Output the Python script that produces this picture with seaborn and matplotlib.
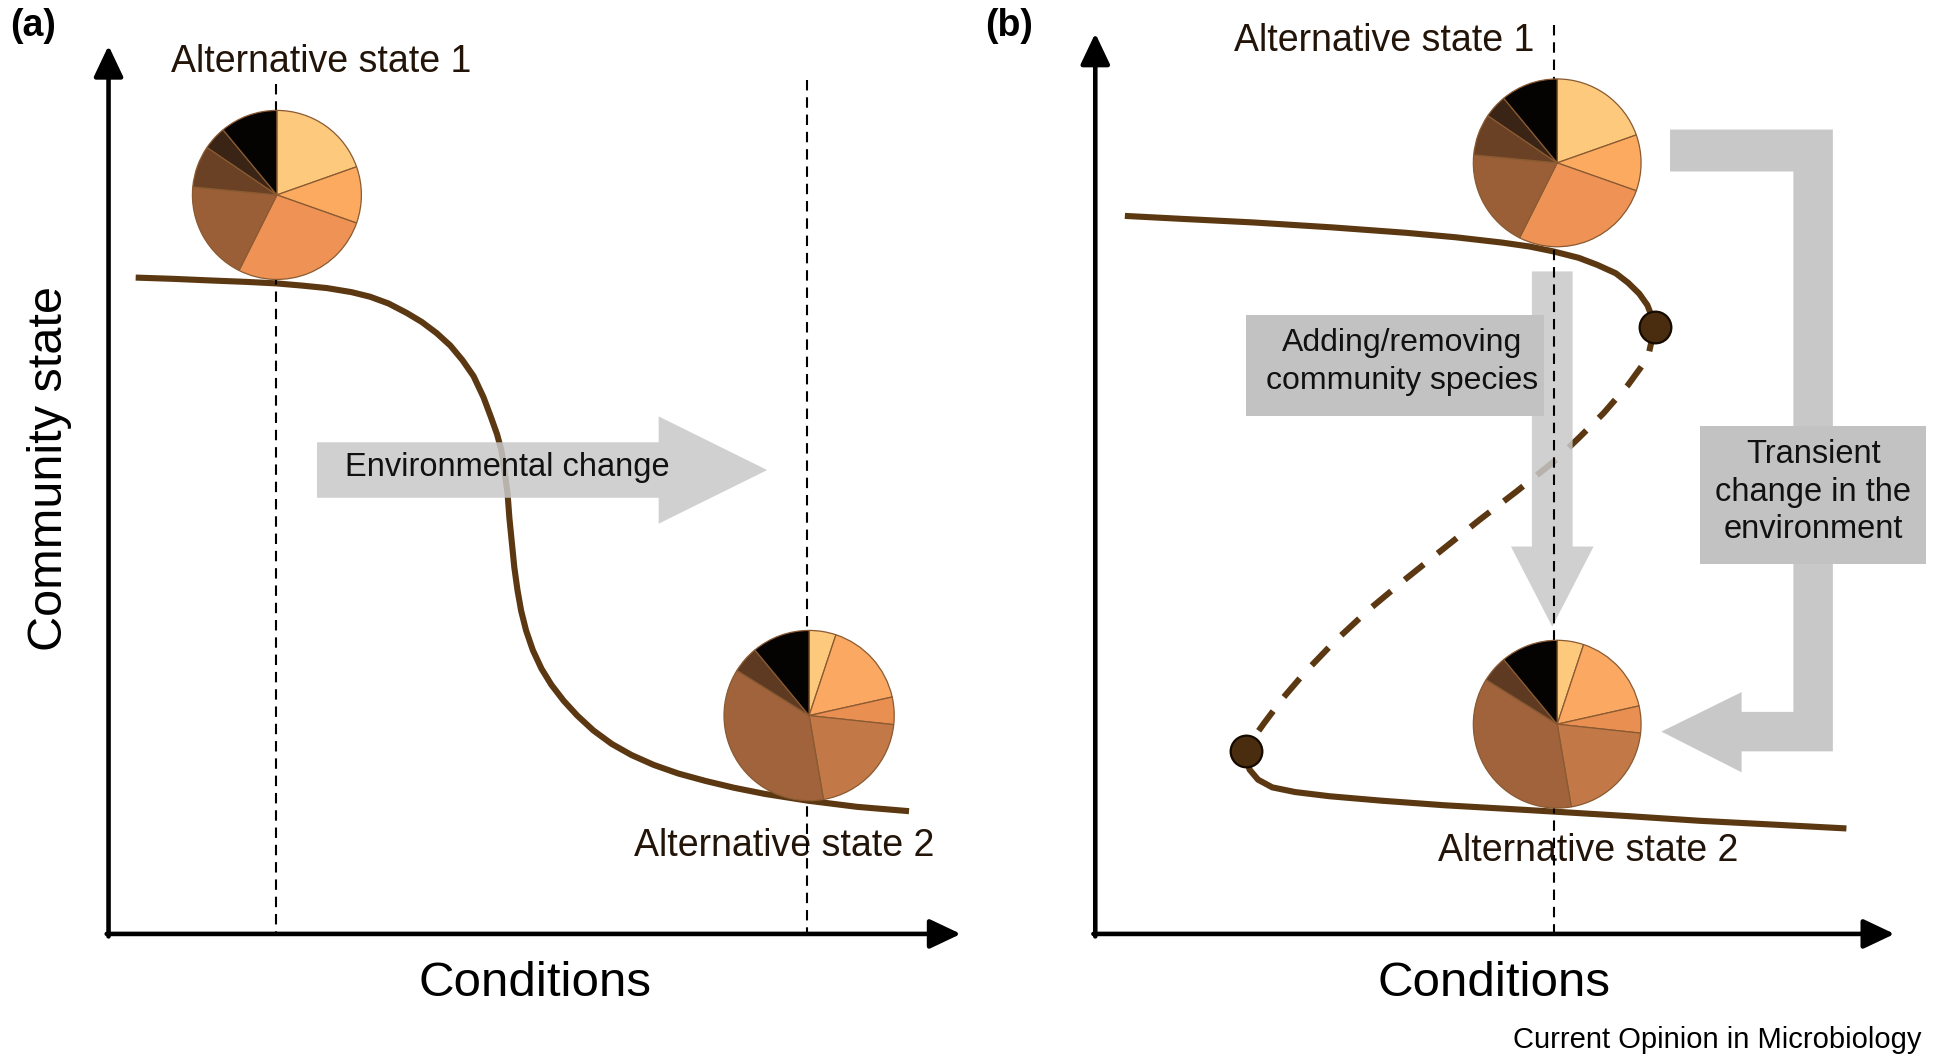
import numpy as np
import pandas as pd
import matplotlib
matplotlib.use("Agg")
import matplotlib.pyplot as plt
import seaborn as sns
from matplotlib.patches import FancyArrow, Polygon, Rectangle

# ---------------- data (canvas units: x right, y down) -------------
# panel (a): smooth regime shift curve
curve_a_x = [110, 140, 170, 200, 224, 245, 265, 285, 300, 315, 330, 342, 354, 365, 375, 384,
             392, 398, 403, 406.5, 409.5, 411.5, 413, 415, 417, 419.5, 422.5, 426.5, 432, 439,
             447, 457, 468, 481, 496, 512, 530, 550, 572, 595, 620, 655, 695, 737]
curve_a_y = [225, 226, 227.3, 228.5, 229.7, 231.5, 233.5, 236.8, 240.5, 246, 253.8, 261, 270,
             280, 292, 305, 322, 338, 352, 365, 385, 400, 420, 440, 460, 478, 495, 511, 527,
             542, 555, 568, 580, 592, 603, 612, 620, 627, 633, 638.5, 643.5, 649, 654, 657.5]

# panel (b): bistable (folded) curve
upper_b_x = [912, 960, 1016, 1080, 1140, 1180, 1217.6, 1240, 1259.5, 1280, 1295, 1310, 1320,
             1329, 1335.6, 1339, 1341.5]
upper_b_y = [175, 177.5, 180.3, 184.3, 188.7, 192.3, 196.6, 199.8, 203.8, 209, 214.7, 221.5,
             229.2, 238, 247.3, 256, 265.4]
unstable_b_x = [1341.5, 1336, 1320, 1300, 1280, 1260, 1230, 1200, 1170, 1140, 1110, 1082,
                1058, 1040, 1025, 1015, 1010]
unstable_b_y = [265.4, 290, 312, 335, 355, 374, 398, 421, 445, 469, 494, 520, 545, 566, 586,
                600, 608.5]
lower_b_x = [1010, 1013, 1020, 1031.5, 1050, 1078, 1120, 1171, 1220, 1264, 1320, 1378, 1440, 1497]
lower_b_y = [608.5, 623.7, 632, 638.2, 642, 645.4, 649, 652.7, 655.5, 658.1, 661.5, 665.3,
             668.5, 671.5]
tipping_x = [1341.5, 1010]
tipping_y = [265.4, 608.5]

# community composition (percent of each taxon)
state1_shares = [19.6, 10.8, 27.0, 19.1, 8.0, 4.5, 11.0]
state2_shares = [5.1, 16.4, 5.2, 20.6, 36.6, 5.1, 11.0]
state1_colors = ["#fdc97c", "#fbaa60", "#ee9355", "#9b5f37", "#6b4125", "#3a2416", "#050302"]
state2_colors = ["#fdc97c", "#fba862", "#e98f52", "#c27947", "#a0633b", "#5e3a22", "#050302"]

# ---------------- styling ----------------
sns.set_theme(style="white")
plt.rcParams["font.family"] = ["Liberation Sans", "DejaVu Sans"]

BROWN = "#5b3812"
GRAY = "#c8c8c8"
BOXGRAY = "#c2c2c2"
W, H = 1568, 860

fig = plt.figure(figsize=(19.34, 10.61), dpi=100)
ax = fig.add_axes([0, 0, 1, 1])


def pie(shares, colors, center, radius):
    wedges, _ = ax.pie(shares, colors=colors, center=center, radius=radius,
                       startangle=-90, counterclock=True, frame=True,
                       wedgeprops=dict(edgecolor="#8a5a32", linewidth=0.9))
    for w in wedges:
        w.set_zorder(6)


pie(state1_shares, state1_colors, (224.5, 158), 68.5)
pie(state2_shares, state2_colors, (656, 580), 69)
pie(state1_shares, state1_colors, (1262.5, 132), 68)
pie(state2_shares, state2_colors, (1262.5, 587), 68)

ax.set_xlim(0, W)
ax.set_ylim(H, 0)
ax.set_aspect("auto")
ax.axis("off")

# curves
line_kw = dict(ax=ax, color=BROWN, lw=4.4, sort=False, estimator=None, zorder=3)
sns.lineplot(x=curve_a_x, y=curve_a_y, solid_capstyle="butt", solid_joinstyle="round", **line_kw)
sns.lineplot(x=upper_b_x, y=upper_b_y, solid_capstyle="butt", solid_joinstyle="round", **line_kw)
sns.lineplot(x=lower_b_x, y=lower_b_y, solid_capstyle="butt", solid_joinstyle="round", **line_kw)
sns.lineplot(x=unstable_b_x, y=unstable_b_y, linestyle=(0, (4.0, 2.9)), **line_kw)
sns.scatterplot(x=tipping_x, y=tipping_y, ax=ax, s=520, color="#4a2c0e",
                edgecolor="#140a00", linewidth=1.6, zorder=7)

# dashed vertical guides
for gx, gy0 in [(224, 68), (654, 65), (1260, 20)]:
    ax.plot([gx, gx], [gy0, 757], color="black", lw=1.5, linestyle=(0, (5, 3.3)), zorder=4.5)

# axes arrows
def axis_arrow(start, end):
    ax.annotate("", xy=end, xytext=start,
                arrowprops=dict(arrowstyle="-|>,head_length=0.95,head_width=0.45",
                                mutation_scale=20, lw=3.3, color="black",
                                shrinkA=0, shrinkB=0), zorder=8)

axis_arrow((88, 759), (88, 37))
axis_arrow((86.5, 757), (779, 757))
axis_arrow((888, 759), (888, 27))
axis_arrow((886.5, 757), (1536, 757))

# block arrows
ax.add_patch(FancyArrow(257, 381, 365, 0, width=45, head_width=87, head_length=88,
                        length_includes_head=True, color=GRAY, alpha=0.85, lw=0, zorder=4))
ax.add_patch(FancyArrow(1258.5, 220, 0, 288, width=33, head_width=67, head_length=65,
                        length_includes_head=True, color=GRAY, alpha=0.85, lw=0, zorder=4))
ax.add_patch(Polygon([(1354, 105), (1486, 105), (1486, 609), (1412, 609), (1412, 626),
                      (1347, 593), (1412, 561), (1412, 577), (1454, 577), (1454, 139),
                      (1354, 139)], closed=True, color=GRAY, lw=0, zorder=4))
ax.add_patch(Rectangle((1010.5, 255), 241.5, 82, color=BOXGRAY, lw=0, zorder=4.2))
ax.add_patch(Rectangle((1378, 345), 183.5, 112.5, color=BOXGRAY, lw=0, zorder=4.2))

# texts
TXT = "#111111"
ax.text(411, 379, "Environmental change", fontsize=23.5, ha="center", va="center", color=TXT, zorder=9)
ax.text(1137, 278, "Adding/removing", fontsize=23, ha="center", va="center", color=TXT, zorder=9)
ax.text(1137, 309, "community species", fontsize=23, ha="center", va="center", color=TXT, zorder=9)
ax.text(1470, 399, "Transient\nchange in the\nenvironment", fontsize=23.5, ha="center",
        va="center", color=TXT, linespacing=1.28, zorder=9)

ax.text(260, 50, "Alternative state 1", fontsize=27, ha="center", va="center", color="#221408")
ax.text(636, 686, "Alternative state 2", fontsize=27, ha="center", va="center", color="#221408")
ax.text(1122, 33, "Alternative state 1", fontsize=27, ha="center", va="center", color="#221408")
ax.text(1288, 690, "Alternative state 2", fontsize=27, ha="center", va="center", color="#221408")

ax.text(434, 797, "Conditions", fontsize=35.5, ha="center", va="center", color="black")
ax.text(1211, 797, "Conditions", fontsize=35.5, ha="center", va="center", color="black")
ax.text(40, 380, "Community state", fontsize=35, ha="center", va="center", rotation=90, color="black")

ax.text(27, 21, "(a)", fontsize=27, fontweight="bold", ha="center", va="center", color="black")
ax.text(818, 21, "(b)", fontsize=27, fontweight="bold", ha="center", va="center", color="black")

ax.text(1558, 843, "Current Opinion in Microbiology", fontsize=21, ha="right", va="center", color="black")

fig.savefig("out.png", dpi=100, facecolor="white")
